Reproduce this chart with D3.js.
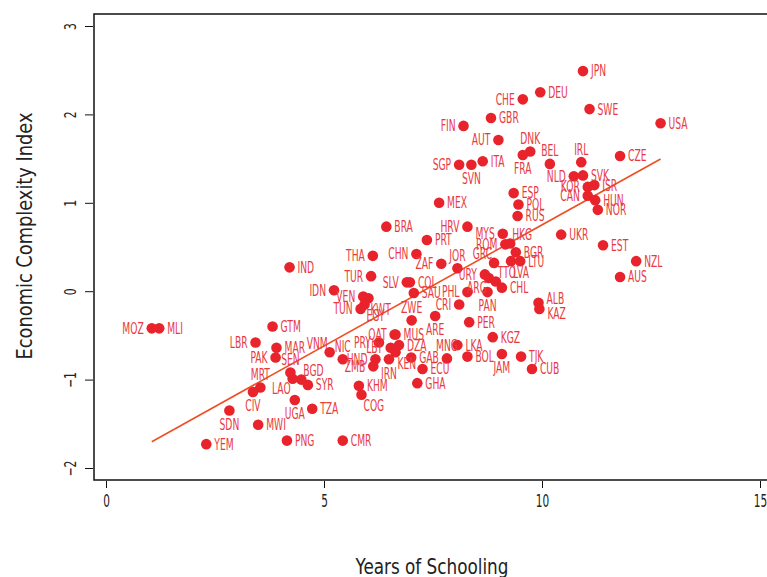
<!DOCTYPE html>
<html>
<head>
<meta charset="utf-8">
<script src="https://cdn.jsdelivr.net/npm/d3@7"></script>
<style>
  body { margin: 0; background: #fff; }
  svg text { font-family: "Liberation Sans Narrow", "DejaVu Sans Condensed", "Arial Narrow", sans-serif; }
</style>
</head>
<body>
<svg id="chart" width="767" height="577"></svg>
<script>
// country codes, years of schooling, economic complexity index
const countries = ["JPN","DEU","CHE","SWE","GBR","USA","FIN","AUT","DNK","FRA","BEL","IRL","CZE","SGP","SVN","ITA","NLD","SVK","KOR","ISR","CAN","HUN","NOR","ESP","POL","RUS","MEX","HRV","MYS","ROM","HKG","BGR","LVA","LTU","UKR","EST","NZL","AUS","BRA","PRT","THA","CHN","ZAF","JOR","GRC","URY","ARG","TTO","CHL","PHL","PAN","CRI","ALB","KAZ","PER","KGZ","IND","IDN","TUR","VEN","KWT","EGY","TUN","SLV","COL","SAU","ZWE","ARE","QAT","MUS","PRY","DZA","LBY","KEN","IRN","HND","ZMB","NIC","VNM","GAB","ECU","MNG","LKA","BOL","JAM","TJK","CUB","GHA","KHM","COG","CMR","TZA","UGA","SYR","BGD","LAO","SEN","MRT","CIV","GTM","LBR","MAR","PAK","MOZ","MLI","SDN","MWI","YEM","PNG"];
const schooling = [10.94,9.96,9.56,11.09,8.83,12.72,8.20,9.00,9.73,9.56,10.18,10.90,11.79,8.10,8.38,8.64,10.73,10.94,11.05,11.20,11.05,11.22,11.28,9.35,9.46,9.44,7.64,8.29,9.10,9.16,9.27,9.40,9.29,9.50,10.44,11.40,12.16,11.79,6.43,7.36,6.12,7.12,7.69,8.06,8.90,8.69,8.78,8.94,9.08,8.29,8.75,8.10,9.92,9.94,8.33,8.87,4.21,5.23,6.08,5.90,6.02,5.93,5.84,6.90,6.97,7.06,7.01,7.55,6.62,6.64,6.26,6.72,6.53,6.64,6.49,6.18,6.13,5.43,5.13,7.00,7.26,7.82,8.06,8.29,9.08,9.52,9.77,7.14,5.80,5.86,5.43,4.73,4.33,4.63,4.48,4.28,4.23,3.54,3.37,3.82,3.43,3.91,3.89,1.05,1.22,2.83,3.49,2.30,4.15];
const eci = [2.49,2.25,2.17,2.06,1.96,1.90,1.87,1.71,1.58,1.54,1.44,1.46,1.53,1.43,1.43,1.47,1.30,1.31,1.18,1.20,1.08,1.03,0.92,1.11,0.98,0.85,1.00,0.73,0.65,0.53,0.54,0.44,0.34,0.34,0.64,0.52,0.34,0.16,0.73,0.58,0.40,0.42,0.31,0.26,0.32,0.19,0.15,0.11,0.04,-0.01,-0.01,-0.15,-0.13,-0.20,-0.35,-0.52,0.27,0.01,0.17,-0.06,-0.08,-0.15,-0.20,0.10,0.10,-0.02,-0.33,-0.28,-0.49,-0.49,-0.58,-0.61,-0.64,-0.69,-0.77,-0.77,-0.85,-0.77,-0.69,-0.75,-0.88,-0.76,-0.61,-0.74,-0.71,-0.74,-0.88,-1.04,-1.07,-1.17,-1.69,-1.33,-1.23,-1.06,-1.00,-0.99,-0.92,-1.09,-1.14,-0.40,-0.58,-0.64,-0.75,-0.42,-0.42,-1.35,-1.51,-1.73,-1.69];

// where each label sits relative to its dot
const labelSide = {
  CHE:"l", FIN:"l", AUT:"l", DNK:"t", FRA:"b", BEL:"t", IRL:"t", SGP:"l", SVN:"b", NLD:"l",
  KOR:"l", CAN:"l", HRV:"l", MYS:"l", ROM:"l", HKG:"tr", LVA:"br", GRC:"tl", JOR:"t",
  URY:"l", ARG:"bl", TTO:"tr", PHL:"l", PAN:"b", CRI:"l", JAM:"b", MNG:"t", KEN:"br",
  IRN:"b", ZMB:"l", HND:"l", LBY:"l", QAT:"l", PRY:"l", NIC:"t", VNM:"tl", COG:"br",
  UGA:"b", BGD:"tr", LAO:"bl", SEN:"t", MRT:"t", CIV:"b", SDN:"b", MOZ:"l", LBR:"l",
  PAK:"l", IDN:"l", TUR:"l", THA:"l", CHN:"l", ZAF:"l", VEN:"l", KWT:"br", TUN:"l",
  EGY:"br", SLV:"l", ZWE:"t", ARE:"b", ALB:"ru", KAZ:"rd"
};

// fitted line: intercept and slope
const trend = { intercept: -1.99, slope: 0.274 };

const xTicks = [0, 5, 10, 15];
const yTicks = [-2, -1, 0, 1, 2, 3];

const data = countries.map((c, i) => ({ code: c, x: schooling[i], y: eci[i] }));

const svg = d3.select("#chart");
const frame = { left: 94, top: 14, right: 770, bottom: 480 };

const x = d3.scaleLinear().domain([0, 15]).range([106, 760]);
const y = d3.scaleLinear().domain([-2, 3]).range([468, 26]);

const red = "#e8232b";
const tickFormat = (d) => (d < 0 ? "\u2212" + Math.abs(d) : String(d));

// trend line
const xmin = d3.min(schooling), xmax = d3.max(schooling);
svg.append("line")
  .attr("x1", x(xmin)).attr("y1", y(trend.intercept + trend.slope * xmin))
  .attr("x2", x(xmax)).attr("y2", y(trend.intercept + trend.slope * xmax))
  .attr("stroke", "#f04e23")
  .attr("stroke-width", 1.6);

// dots
svg.append("g")
  .selectAll("circle")
  .data(data)
  .enter()
  .append("circle")
  .attr("cx", (d) => x(d.x))
  .attr("cy", (d) => y(d.y))
  .attr("r", 5.3)
  .attr("fill", red);

// labels
const offsets = {
  r: [8, 0, "start"], l: [-8, 0, "end"], t: [0, -13, "middle"], b: [0, 14, "middle"],
  tl: [-2, -9, "end"], tr: [2, -9, "start"], bl: [-2, 10, "end"], br: [2, 11, "start"],
  ru: [8, -4, "start"], rd: [8, 5, "start"]
};
svg.append("g")
  .selectAll("text")
  .data(data)
  .enter()
  .append("text")
  .attr("transform", (d) => {
    const o = offsets[labelSide[d.code] || "r"];
    return `translate(${x(d.x) + o[0]},${y(d.y) + o[1]}) scale(0.68,1)`;
  })
  .attr("text-anchor", (d) => offsets[labelSide[d.code] || "r"][2])
  .attr("dy", "0.36em")
  .attr("fill", "#e83a3e")
  .style("font-size", "15px")
  .text((d) => d.code);

// frame
svg.append("rect")
  .attr("x", frame.left).attr("y", frame.top)
  .attr("width", frame.right - frame.left)
  .attr("height", frame.bottom - frame.top)
  .attr("fill", "none")
  .attr("stroke", "#111")
  .attr("stroke-width", 1.5);

// x axis
const xAxis = svg.append("g")
  .attr("transform", `translate(0,${frame.bottom + 1})`)
  .call(d3.axisBottom(x).tickValues(xTicks).tickFormat(tickFormat).tickSize(7).tickPadding(5));
xAxis.select(".domain").remove();
xAxis.selectAll("line").attr("stroke", "#111");
xAxis.selectAll("text")
  .attr("y", null).attr("dy", null)
  .attr("transform", "translate(0,26) scale(0.65,1)")
  .attr("fill", "#222").style("font-size", "18px")
  .style("font-family", "'Liberation Sans Narrow', 'DejaVu Sans Condensed', sans-serif");

// y axis
const yAxis = svg.append("g")
  .attr("transform", `translate(${frame.left - 1},0)`)
  .call(d3.axisLeft(y).tickValues(yTicks).tickFormat(tickFormat).tickSize(8));
yAxis.select(".domain").remove();
yAxis.selectAll("line").attr("stroke", "#111");
yAxis.selectAll("text")
  .attr("x", null).attr("dy", null)
  .attr("transform", "translate(-23,0) rotate(-90) scale(0.75,1)")
  .attr("text-anchor", "middle")
  .attr("dominant-baseline", "central")
  .attr("fill", "#222")
  .style("font-size", "16px")
  .style("font-family", "'Liberation Sans Narrow', 'DejaVu Sans Condensed', sans-serif");

// axis titles
svg.append("text")
  .attr("transform", `translate(${(frame.left + frame.right) / 2},574) scale(0.85,1)`)
  .attr("text-anchor", "middle")
  .attr("fill", "#222")
  .style("font-size", "22px")
  .text("Years of Schooling");

svg.append("text")
  .attr("transform", "translate(32,236) rotate(-90) scale(0.9,1)")
  .attr("text-anchor", "middle")
  .attr("fill", "#222")
  .style("font-size", "22px")
  .text("Economic Complexity Index");
</script>
</body>
</html>
